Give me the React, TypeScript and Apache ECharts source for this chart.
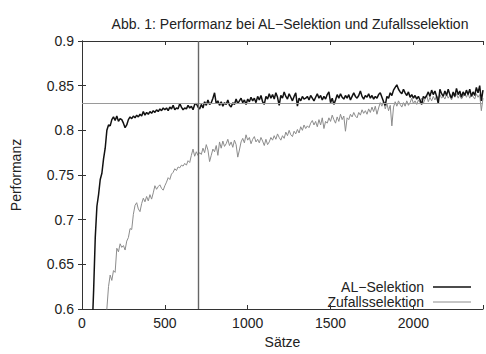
import React, { useEffect, useRef } from "react";
import * as echarts from "echarts";

const TITLE = "Abb. 1: Performanz bei AL\u2212Selektion und Zufallsselektion";
const X_NAME = "Sätze";
const Y_NAME = "Performanz";
const SERIES_NAMES = ["AL\u2212Selektion", "Zufallsselektion"];

const X_MIN = 0;
const X_MAX = 2420;
const X_INTERVAL = 500;
const Y_MIN = 0.6;
const Y_MAX = 0.9;
const Y_INTERVAL = 0.05;

const H_LINE = 0.83;
const V_LINE = 700;

const AL_START = 60;
const AL_STEP = 10;
const alValues = [
  0.57, 0.62, 0.68, 0.715, 0.728, 0.745, 0.752, 0.768, 0.78, 0.8,
  0.806, 0.805, 0.812, 0.815, 0.811, 0.816, 0.81, 0.813, 0.812, 0.808,
  0.803, 0.806, 0.812, 0.815, 0.813, 0.816, 0.814, 0.817, 0.815, 0.818,
  0.816, 0.821, 0.817, 0.82, 0.818, 0.821, 0.819, 0.822, 0.82, 0.823,
  0.821, 0.824, 0.822, 0.825, 0.823, 0.825, 0.822, 0.826, 0.824, 0.828,
  0.823, 0.825, 0.824, 0.83, 0.826, 0.823, 0.825, 0.824, 0.828, 0.825,
  0.827, 0.823, 0.829, 0.83, 0.826, 0.824, 0.829, 0.825, 0.832, 0.828,
  0.834, 0.829, 0.831, 0.836, 0.842, 0.83, 0.833, 0.828, 0.832, 0.827,
  0.831, 0.829, 0.834, 0.828, 0.826, 0.831, 0.829, 0.835, 0.83, 0.833,
  0.836, 0.831, 0.834, 0.829, 0.835, 0.832, 0.837, 0.833, 0.836, 0.831,
  0.838, 0.834, 0.839, 0.832, 0.829, 0.838, 0.835, 0.841, 0.836, 0.84,
  0.835, 0.842, 0.837, 0.828, 0.839, 0.836, 0.843, 0.838, 0.835, 0.841,
  0.837, 0.833, 0.838, 0.842, 0.827, 0.836, 0.833, 0.838, 0.835, 0.836,
  0.838, 0.834, 0.839, 0.836, 0.833, 0.837, 0.841, 0.836, 0.839, 0.834,
  0.838, 0.835, 0.84, 0.843, 0.831, 0.836, 0.829, 0.834, 0.84, 0.836,
  0.841, 0.837, 0.835, 0.839, 0.836, 0.84, 0.834, 0.838, 0.842, 0.838,
  0.836, 0.839, 0.844, 0.838, 0.835, 0.839, 0.837, 0.841, 0.836, 0.839,
  0.835, 0.838, 0.836, 0.84, 0.842, 0.837, 0.832, 0.828, 0.838, 0.836,
  0.842, 0.839, 0.845, 0.848, 0.851, 0.846, 0.843, 0.841, 0.846, 0.842,
  0.839, 0.843, 0.837, 0.84, 0.836, 0.839, 0.835, 0.838, 0.834, 0.829,
  0.838, 0.836, 0.839, 0.843, 0.838, 0.845, 0.84, 0.844, 0.838, 0.83,
  0.846, 0.841, 0.838, 0.844, 0.839, 0.846, 0.84, 0.836, 0.843, 0.838,
  0.847, 0.84, 0.844, 0.837, 0.843, 0.839, 0.845, 0.84, 0.846, 0.838,
  0.843, 0.839, 0.848, 0.842, 0.85, 0.833, 0.845,
];

const RND_START = 140;
const RND_STEP = 10;
const rndValues = [
  0.57, 0.6, 0.625, 0.638, 0.632, 0.643, 0.641, 0.668, 0.664, 0.673,
  0.669, 0.671, 0.666, 0.676, 0.68, 0.69, 0.689, 0.706, 0.716, 0.719,
  0.712, 0.709, 0.718, 0.724, 0.72, 0.726, 0.721, 0.728, 0.723, 0.73,
  0.738, 0.734, 0.737, 0.739, 0.735, 0.733, 0.738, 0.742, 0.747, 0.745,
  0.751, 0.753, 0.757, 0.755, 0.759, 0.758, 0.761, 0.76, 0.763, 0.761,
  0.766, 0.764, 0.772, 0.779, 0.771, 0.776, 0.772, 0.775, 0.773, 0.78,
  0.775, 0.784, 0.778, 0.765, 0.772, 0.779, 0.776, 0.783, 0.772, 0.787,
  0.78, 0.788, 0.782, 0.785, 0.79, 0.783, 0.787, 0.781, 0.789, 0.784,
  0.77, 0.778, 0.787, 0.791, 0.786, 0.795, 0.789, 0.792, 0.785, 0.79,
  0.793, 0.787, 0.79, 0.786, 0.792, 0.788, 0.783, 0.79, 0.784, 0.787,
  0.792, 0.789, 0.794, 0.79, 0.796, 0.792, 0.789, 0.794, 0.791, 0.798,
  0.794, 0.8, 0.795, 0.793, 0.799, 0.796, 0.801, 0.797, 0.804, 0.8,
  0.806, 0.802, 0.805, 0.803, 0.808, 0.811, 0.806, 0.81, 0.804, 0.812,
  0.806, 0.814, 0.802, 0.81, 0.808, 0.814, 0.81, 0.817, 0.812, 0.808,
  0.815, 0.81, 0.818, 0.812, 0.816, 0.799, 0.814, 0.812, 0.818, 0.815,
  0.82, 0.816, 0.814, 0.82, 0.817, 0.823, 0.819, 0.822, 0.818, 0.824,
  0.82, 0.826, 0.821, 0.827, 0.818, 0.825, 0.831, 0.827, 0.833, 0.824,
  0.83, 0.822, 0.828, 0.805, 0.826, 0.832, 0.827, 0.833, 0.829, 0.826,
  0.831, 0.827, 0.833, 0.828, 0.831, 0.836, 0.83, 0.833, 0.829, 0.834,
  0.831, 0.836, 0.83, 0.835, 0.839, 0.832, 0.837, 0.833, 0.838, 0.834,
  0.839, 0.835, 0.84, 0.836, 0.838, 0.835, 0.84, 0.836, 0.839, 0.834,
  0.84, 0.837, 0.841, 0.836, 0.84, 0.835, 0.838, 0.842, 0.837, 0.841,
  0.836, 0.84, 0.838, 0.835, 0.841, 0.837, 0.84, 0.822, 0.836,
];

const FONT = "'Liberation Sans', Arial, Helvetica, sans-serif";
const TEXT_COLOR = "#222";
const AXIS_COLOR = "#333";
const FS = 14;

export default function App() {
  const ref = useRef<HTMLDivElement>(null);

  useEffect(() => {
    if (!ref.current) return;
    const chart = echarts.init(ref.current, null, { renderer: "svg" });

    const alData = alValues.map((v, i) => [AL_START + i * AL_STEP, v]);
    const rndData = rndValues.map((v, i) => [RND_START + i * RND_STEP, v]);

    const xLabelFmt = (v: number) => (v % X_INTERVAL === 0 ? String(v) : "");
    const yLabelFmt = (v: number) => String(+v.toFixed(2));

    const common = {
      min: X_MIN,
      max: X_MAX,
      interval: X_INTERVAL,
    };

    const axisLine = { show: true, lineStyle: { color: AXIS_COLOR, width: 1 } };
    const tick = { show: true, inside: true, length: 4, lineStyle: { color: AXIS_COLOR } };

    const legendY1 = 287;
    const legendY2 = 302;

    chart.setOption({
      animation: false,
      backgroundColor: "#fff",
      title: {
        text: TITLE,
        left: 285,
        textAlign: "center",
        top: 12,
        textStyle: { fontFamily: FONT, fontSize: FS, fontWeight: "normal", color: TEXT_COLOR },
      },
      grid: { left: 82, right: 1, top: 41, bottom: 41, containLabel: false },
      xAxis: [
        {
          type: "value",
          ...common,
          position: "bottom",
          name: X_NAME,
          nameLocation: "middle",
          nameGap: 26,
          nameTextStyle: { fontFamily: FONT, fontSize: FS, color: TEXT_COLOR },
          axisLine,
          axisTick: tick,
          splitLine: { show: false },
          axisLabel: { formatter: xLabelFmt, fontFamily: FONT, fontSize: FS, color: TEXT_COLOR, margin: 7 },
        },
        {
          type: "value",
          ...common,
          position: "top",
          axisLine,
          axisTick: tick,
          splitLine: { show: false },
          axisLabel: { show: false },
        },
      ],
      yAxis: [
        {
          type: "value",
          min: Y_MIN,
          max: Y_MAX,
          interval: Y_INTERVAL,
          position: "left",
          name: Y_NAME,
          nameLocation: "middle",
          nameGap: 59,
          nameTextStyle: { fontFamily: FONT, fontSize: FS, color: TEXT_COLOR },
          axisLine,
          axisTick: tick,
          splitLine: { show: false },
          axisLabel: { formatter: yLabelFmt, fontFamily: FONT, fontSize: FS, color: TEXT_COLOR, margin: 8 },
        },
        {
          type: "value",
          min: Y_MIN,
          max: Y_MAX,
          interval: Y_INTERVAL,
          position: "right",
          axisLine,
          axisTick: tick,
          splitLine: { show: false },
          axisLabel: { show: false },
        },
      ],
      series: [
        {
          name: SERIES_NAMES[1],
          type: "line",
          data: rndData,
          showSymbol: false,
          symbol: "none",
          clip: true,
          lineStyle: { color: "#8c8c8c", width: 1 },
          z: 2,
          markLine: {
            silent: true,
            symbol: "none",
            label: { show: false },
            data: [
              { yAxis: H_LINE, lineStyle: { color: "#9a9a9a", width: 1, type: "solid" } },
              { xAxis: V_LINE, lineStyle: { color: "#666", width: 1.4, type: "solid" } },
            ],
          },
        },
        {
          name: SERIES_NAMES[0],
          type: "line",
          data: alData,
          showSymbol: false,
          symbol: "none",
          clip: true,
          lineStyle: { color: "#111", width: 1.5 },
          z: 3,
        },
      ],
      graphic: [
        {
          type: "text",
          x: 424,
          y: legendY1,
          style: {
            text: SERIES_NAMES[0],
            align: "right",
            verticalAlign: "middle",
            fontFamily: FONT,
            fontSize: FS,
            fill: TEXT_COLOR,
          },
        },
        {
          type: "line",
          shape: { x1: 433, y1: legendY1, x2: 471, y2: legendY1 },
          style: { stroke: "#111", lineWidth: 1.5 },
        },
        {
          type: "text",
          x: 424,
          y: legendY2,
          style: {
            text: SERIES_NAMES[1],
            align: "right",
            verticalAlign: "middle",
            fontFamily: FONT,
            fontSize: FS,
            fill: TEXT_COLOR,
          },
        },
        {
          type: "line",
          shape: { x1: 433, y1: legendY2, x2: 471, y2: legendY2 },
          style: { stroke: "#8c8c8c", lineWidth: 1 },
        },
      ],
    });

    return () => chart.dispose();
  }, []);

  return (
    <div
      ref={ref}
      style={{ position: "fixed", left: 0, top: 0, width: 486, height: 354 }}
    />
  );
}
